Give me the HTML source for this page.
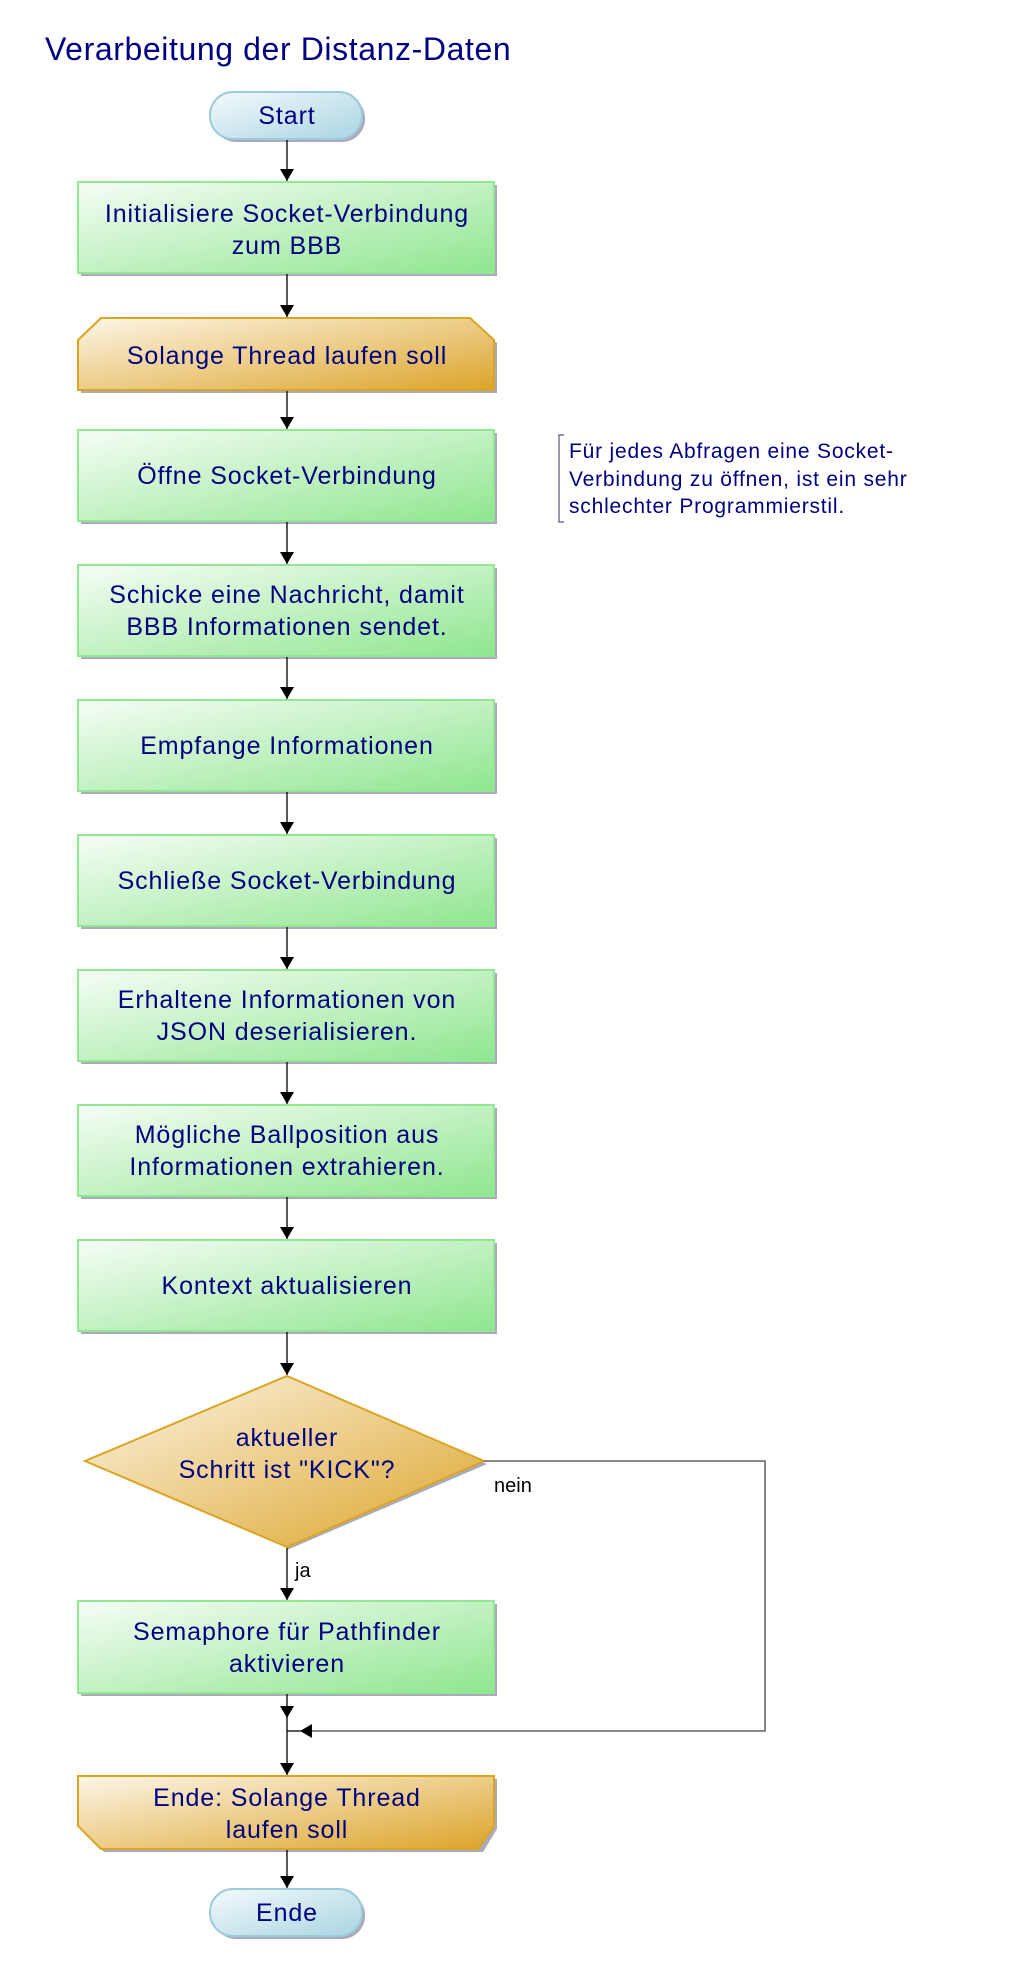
<!DOCTYPE html>
<html><head><meta charset="utf-8"><style>html,body{margin:0;padding:0;background:#fff}svg{display:block}</style></head>
<body>
<svg width="1020" height="1978" viewBox="0 0 1020 1978" xmlns="http://www.w3.org/2000/svg" font-family="Liberation Sans, sans-serif">
<defs>
<linearGradient id="g" x1="0" y1="0" x2="1" y2="1"><stop offset="0" stop-color="#f6fdf6"/><stop offset="1" stop-color="#8fe68f"/></linearGradient>
<linearGradient id="o" x1="0" y1="0" x2="1" y2="1"><stop offset="0" stop-color="#fdf6e8"/><stop offset="1" stop-color="#dca42a"/></linearGradient>
<linearGradient id="b" x1="0" y1="0" x2="1" y2="1"><stop offset="0" stop-color="#f4fafc"/><stop offset="1" stop-color="#a9d5e3"/></linearGradient>
<marker id="a" markerWidth="12" markerHeight="14" refX="12" refY="7" orient="auto" markerUnits="userSpaceOnUse"><path d="M0,0 L12,7 L0,14 Z" fill="#000"/></marker>
</defs>
<text x="45" y="60" font-size="32" letter-spacing="0.6" fill="#000080">Verarbeitung der Distanz-Daten</text>

<g fill="#000080" font-size="25" letter-spacing="0.9" text-anchor="middle">
<rect x="213" y="95" width="152" height="47" rx="23" fill="#aab"/>
<rect x="210" y="92" width="152" height="47" rx="23" fill="url(#b)" stroke="#9ccbd9" stroke-width="2"/>
<text x="287" y="124">Start</text>

<rect x="81" y="185" width="416" height="91" fill="#aab"/>
<rect x="78" y="182" width="416" height="91" fill="url(#g)" stroke="#90e890" stroke-width="2"/>
<text x="287" y="222">Initialisiere Socket-Verbindung</text><text x="287" y="254">zum BBB</text>

<path d="M104,321 H473 L497,343 V393 H81 V343 Z" fill="#aab"/>
<path d="M101,318 H470 L494,340 V390 H78 V340 Z" fill="url(#o)" stroke="#daa520" stroke-width="2"/>
<text x="287" y="364">Solange Thread laufen soll</text>

<rect x="81" y="433" width="416" height="91" fill="#aab"/>
<rect x="78" y="430" width="416" height="91" fill="url(#g)" stroke="#90e890" stroke-width="2"/>
<text x="287" y="484">Öffne Socket-Verbindung</text>

<rect x="81" y="568" width="416" height="91" fill="#aab"/>
<rect x="78" y="565" width="416" height="91" fill="url(#g)" stroke="#90e890" stroke-width="2"/>
<text x="287" y="603">Schicke eine Nachricht, damit</text><text x="287" y="635">BBB Informationen sendet.</text>

<rect x="81" y="703" width="416" height="91" fill="#aab"/>
<rect x="78" y="700" width="416" height="91" fill="url(#g)" stroke="#90e890" stroke-width="2"/>
<text x="287" y="754">Empfange Informationen</text>

<rect x="81" y="838" width="416" height="91" fill="#aab"/>
<rect x="78" y="835" width="416" height="91" fill="url(#g)" stroke="#90e890" stroke-width="2"/>
<text x="287" y="889">Schließe Socket-Verbindung</text>

<rect x="81" y="973" width="416" height="91" fill="#aab"/>
<rect x="78" y="970" width="416" height="91" fill="url(#g)" stroke="#90e890" stroke-width="2"/>
<text x="287" y="1008">Erhaltene Informationen von</text><text x="287" y="1040">JSON deserialisieren.</text>

<rect x="81" y="1108" width="416" height="91" fill="#aab"/>
<rect x="78" y="1105" width="416" height="91" fill="url(#g)" stroke="#90e890" stroke-width="2"/>
<text x="287" y="1143">Mögliche Ballposition aus</text><text x="287" y="1175">Informationen extrahieren.</text>

<rect x="81" y="1243" width="416" height="91" fill="#aab"/>
<rect x="78" y="1240" width="416" height="91" fill="url(#g)" stroke="#90e890" stroke-width="2"/>
<text x="287" y="1294">Kontext aktualisieren</text>

<path d="M287,1380 L487,1464 L287,1550 Z" fill="#aab"/>
<path d="M287,1376 L484,1461 L287,1547 L85,1461 Z" fill="url(#o)" stroke="#daa520" stroke-width="2"/>
<text x="287" y="1446">aktueller</text><text x="287" y="1478">Schritt ist "KICK"?</text>

<rect x="81" y="1604" width="416" height="92" fill="#aab"/>
<rect x="78" y="1601" width="416" height="92" fill="url(#g)" stroke="#90e890" stroke-width="2"/>
<text x="287" y="1640">Semaphore für Pathfinder</text><text x="287" y="1672">aktivieren</text>

<path d="M81,1779 H497 V1829 L483,1852 H104 L81,1829 Z" fill="#aab"/>
<path d="M78,1776 H494 V1826 L478,1849 H101 L78,1826 Z" fill="url(#o)" stroke="#daa520" stroke-width="2"/>
<text x="287" y="1806">Ende: Solange Thread</text><text x="287" y="1838">laufen soll</text>

<rect x="213" y="1892" width="152" height="47" rx="23" fill="#aab"/>
<rect x="210" y="1889" width="152" height="47" rx="23" fill="url(#b)" stroke="#9ccbd9" stroke-width="2"/>
<text x="287" y="1921">Ende</text>
</g>

<g stroke="#000" stroke-width="1.3" fill="none" marker-end="url(#a)">
<line x1="287" y1="140" x2="287" y2="181"/>
<line x1="287" y1="274" x2="287" y2="317"/>
<line x1="287" y1="391" x2="287" y2="429"/>
<line x1="287" y1="522" x2="287" y2="564"/>
<line x1="287" y1="657" x2="287" y2="699"/>
<line x1="287" y1="792" x2="287" y2="834"/>
<line x1="287" y1="927" x2="287" y2="969"/>
<line x1="287" y1="1062" x2="287" y2="1104"/>
<line x1="287" y1="1197" x2="287" y2="1239"/>
<line x1="287" y1="1332" x2="287" y2="1375"/>
<line x1="287" y1="1548" x2="287" y2="1600"/>
<line x1="287" y1="1694" x2="287" y2="1718"/>
<line x1="287" y1="1731" x2="287" y2="1775"/>
<line x1="287" y1="1850" x2="287" y2="1888"/>
</g>
<line x1="287" y1="1716" x2="287" y2="1731" stroke="#000" stroke-width="1.3"/>
<path d="M484,1461 H765 V1731 H300" stroke="#444" stroke-width="1.3" fill="none" marker-end="url(#a)"/>
<line x1="287" y1="1731" x2="300" y2="1731" stroke="#000" stroke-width="1.3"/>
<text x="494" y="1492" font-size="20" fill="#000">nein</text>
<text x="295" y="1577" font-size="20" fill="#000">ja</text>

<path d="M564,435 H559 V522 H564" stroke="#557" stroke-width="1.2" fill="none"/>
<g font-size="21" letter-spacing="0.8" fill="#000080">
<text x="569" y="458">Für jedes Abfragen eine Socket-</text>
<text x="569" y="486">Verbindung zu öffnen, ist ein sehr</text>
<text x="569" y="513">schlechter Programmierstil.</text>
</g>
</svg>
</body></html>
